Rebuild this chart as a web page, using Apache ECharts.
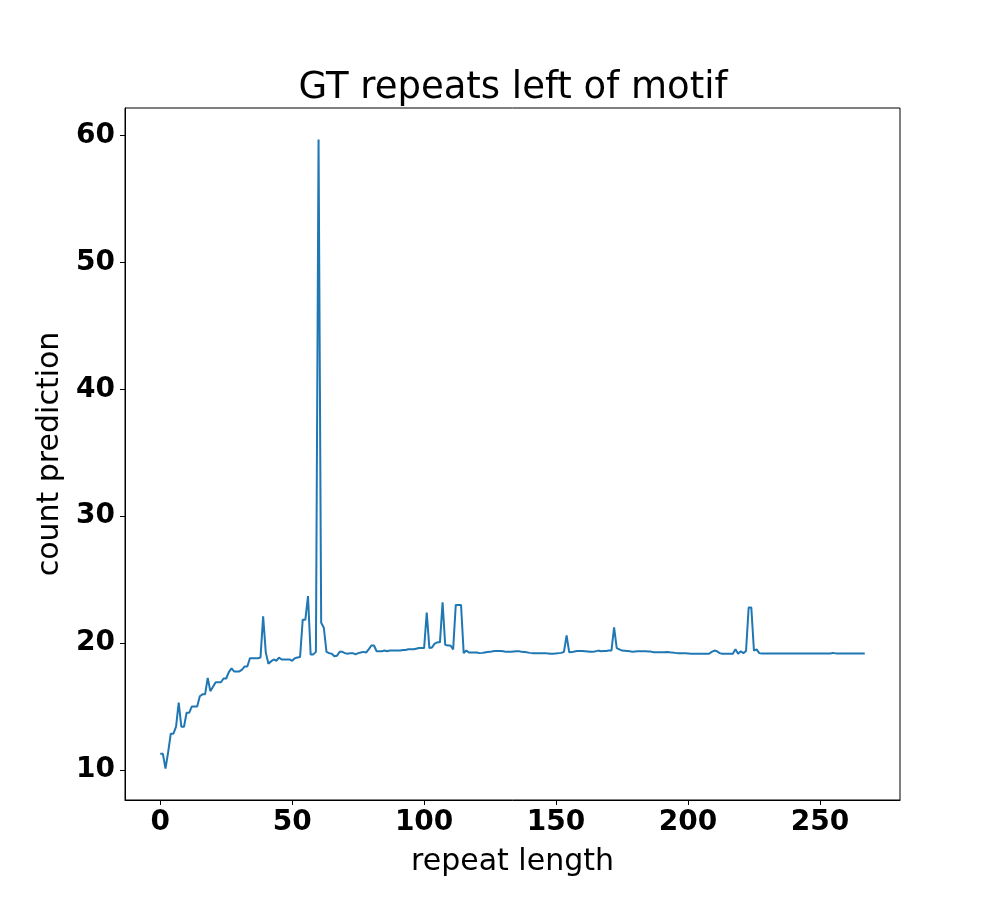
<!DOCTYPE html>
<html>
<head>
<meta charset="utf-8">
<script src="https://cdn.jsdelivr.net/npm/echarts@6/dist/echarts.min.js"></script>
<style>
  html, body { margin: 0; padding: 0; background: #fff; }
  #chart { width: 1000px; height: 900px; }
</style>
</head>
<body>
<div id="chart"></div>
<script>
// count prediction per repeat length (0 .. 267)
const counts = [
  11.26, 11.26, 10.1, 11.4, 12.85, 12.85, 13.4, 15.3, 13.4, 13.4,
  14.5, 14.5, 15.0, 15.0, 15.0, 15.8, 15.95, 15.95, 17.25, 16.2,
  16.55, 16.9, 16.9, 16.9, 17.2, 17.2, 17.7, 18.0, 17.76, 17.76,
  17.76, 17.9, 18.15, 18.15, 18.8, 18.8, 18.8, 18.8, 18.85, 22.1,
  19.26, 18.37, 18.55, 18.7, 18.6, 18.85, 18.7, 18.7, 18.7, 18.7,
  18.6, 18.8, 18.85, 18.9, 21.84, 21.84, 23.7, 19.1, 19.1, 19.3,
  59.7, 21.6, 21.2, 19.3, 19.2, 19.15, 18.95, 19.0, 19.3, 19.3,
  19.2, 19.15, 19.2, 19.2, 19.1, 19.2, 19.25, 19.3, 19.25, 19.5,
  19.8, 19.8, 19.35, 19.35, 19.35, 19.4, 19.35, 19.4, 19.4, 19.4,
  19.4, 19.4, 19.45, 19.45, 19.5, 19.5, 19.5, 19.55, 19.6, 19.6,
  19.6, 22.4, 19.6, 19.65, 19.95, 20.05, 20.05, 23.2, 19.85, 19.8,
  19.8, 19.5, 23.0, 23.0, 23.0, 19.2, 19.4, 19.25, 19.25, 19.25,
  19.25, 19.2, 19.22, 19.25, 19.28, 19.3, 19.34, 19.36, 19.37, 19.37,
  19.35, 19.3, 19.3, 19.3, 19.32, 19.34, 19.34, 19.3, 19.28, 19.26,
  19.22, 19.2, 19.2, 19.2, 19.2, 19.2, 19.2, 19.18, 19.16, 19.15,
  19.18, 19.2, 19.22, 19.3, 20.6, 19.26, 19.28, 19.32, 19.36, 19.37,
  19.37, 19.35, 19.33, 19.3, 19.3, 19.34, 19.4, 19.35, 19.36, 19.37,
  19.4, 19.4, 21.24, 19.6, 19.5, 19.4, 19.38, 19.36, 19.34, 19.3,
  19.32, 19.34, 19.34, 19.34, 19.34, 19.32, 19.32, 19.27, 19.27, 19.26,
  19.26, 19.27, 19.28, 19.27, 19.24, 19.22, 19.2, 19.2, 19.2, 19.2,
  19.18, 19.15, 19.15, 19.15, 19.15, 19.15, 19.15, 19.15, 19.15, 19.3,
  19.4, 19.35, 19.2, 19.15, 19.15, 19.15, 19.15, 19.15, 19.5, 19.15,
  19.35, 19.2, 19.37, 22.8, 22.8, 19.4, 19.5, 19.2, 19.18, 19.17,
  19.17, 19.17, 19.17, 19.17, 19.17, 19.17, 19.17, 19.17, 19.17, 19.17,
  19.17, 19.17, 19.17, 19.17, 19.17, 19.17, 19.17, 19.17, 19.17, 19.17,
  19.17, 19.17, 19.17, 19.17, 19.17, 19.22, 19.18, 19.17, 19.17, 19.17,
  19.17, 19.17, 19.17, 19.17, 19.17, 19.17, 19.17, 19.17
]
const xTicks = [0, 50, 100, 150, 200, 250]
const yTicks = [10, 20, 30, 40, 50, 60]

const chart = echarts.init(document.getElementById('chart'))
const font = 'DejaVu Sans'

chart.setOption({
  animation: false,
  title: {
    text: 'GT repeats left of motif',
    left: 508,
    textAlign: 'center',
    top: 65,
    textStyle: { fontFamily: font, fontSize: 37, fontWeight: 'normal', color: '#000' }
  },
  grid: {
    left: 125, right: 100, top: 108, bottom: 100,
    show: true, borderColor: '#000', borderWidth: 1
  },
  xAxis: {
    type: 'value',
    min: -13.35,
    max: 280.35,
    name: 'repeat length',
    nameLocation: 'middle',
    nameGap: 47,
    nameTextStyle: { fontFamily: font, fontSize: 30, color: '#000' },
    axisLine: { show: true, onZero: false, lineStyle: { color: '#000', width: 1 } },
    axisTick: { show: true, length: 5, customValues: xTicks, lineStyle: { color: '#000' } },
    axisLabel: {
      customValues: xTicks, margin: 9,
      fontFamily: font, fontSize: 28, fontWeight: 'bold', color: '#000'
    },
    splitLine: { show: false }
  },
  yAxis: {
    type: 'value',
    min: 7.62,
    max: 62.18,
    name: 'count prediction',
    nameLocation: 'middle',
    nameGap: 58,
    nameTextStyle: { fontFamily: font, fontSize: 30, color: '#000' },
    axisLine: { show: true, onZero: false, lineStyle: { color: '#000', width: 1 } },
    axisTick: { show: true, length: 5, customValues: yTicks, lineStyle: { color: '#000' } },
    axisLabel: {
      customValues: yTicks, margin: 10,
      fontFamily: font, fontSize: 28, fontWeight: 'bold', color: '#000'
    },
    splitLine: { show: false }
  },
  series: [{
    type: 'line',
    data: counts.map((v, i) => [i, v]),
    showSymbol: false,
    lineStyle: { color: '#1f77b4', width: 2 },
    itemStyle: { color: '#1f77b4' }
  }]
})
</script>
</body>
</html>
